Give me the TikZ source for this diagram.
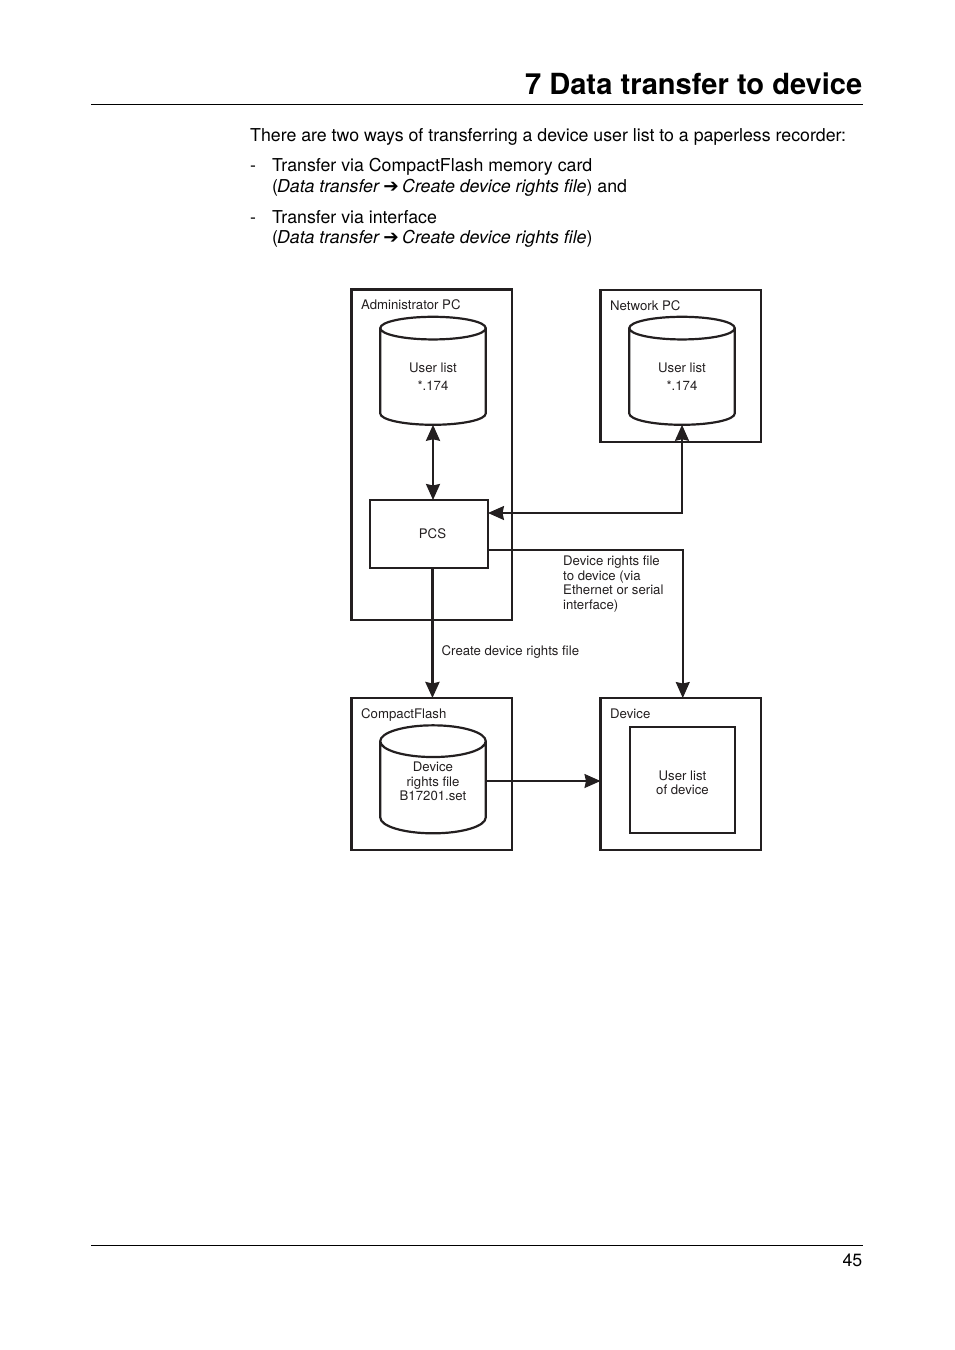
\documentclass[tikz,border=0pt]{standalone}
\usepackage{xcolor}
\usepackage{fontspec}
\setmainfont{TeX Gyre Heros}
\newfontfamily\symfont{DejaVu Sans}
\usetikzlibrary{shapes.geometric, arrows.meta, positioning, calc}

\definecolor{inkgray}{HTML}{231F20}

\tikzset{
    framebox/.style={draw=inkgray, line width=2.3pt, rectangle, outer sep=0pt},
    innerbox/.style={draw=inkgray, line width=2.2pt, rectangle, outer sep=0pt, align=center, text=inkgray, font=\diagfont},
    dbcyl/.style={draw=inkgray, line width=2.2pt, cylinder, shape border rotate=90, aspect=0.476,
        minimum width=105.5pt, minimum height=108pt, outer sep=0pt, inner sep=0pt, align=center, text=inkgray, font=\diagfont},
    tag/.style={anchor=base west, inner sep=0pt, text=inkgray, font=\diagfont},
    note/.style={anchor=north west, inner sep=0pt, align=left, text=inkgray, font=\diagfont},
    bodyline/.style={anchor=north west, inner sep=0pt, align=left, font=\bodyfont},
    flow/.style={draw=inkgray, line width=1.7pt, -{Stealth[length=16pt, width=14pt, inset=1.5pt]}},
    twoway/.style={draw=inkgray, line width=1.7pt, {Stealth[length=16pt, width=14pt, inset=1.5pt]}-{Stealth[length=16pt, width=14pt, inset=1.5pt]}},
    heavyflow/.style={flow, line width=2.9pt},
    pagerule/.style={draw=black, line width=1pt}
}
\newcommand{\diagfont}{\fontsize{13.2}{14.7}\selectfont}
\newcommand{\bodyfont}{\fontsize{17.75}{20.6}\selectfont}
\newcommand{\goesto}{\kern-1.5pt{\symfont\fontsize{18.5}{15}\selectfont ➔}\kern-1.5pt}

\begin{document}
\begin{tikzpicture}[x=1pt, y=-1pt]
    \useasboundingbox (0,0) rectangle (954,1350);

    % page head and foot
    \node[anchor=base east, inner sep=0pt, font=\fontsize{29.1}{29}\selectfont\bfseries] (title) at (862.5,94) {7 Data transfer to device};
    \coordinate (head_l) at (91,104);
    \coordinate (head_r) at (863,104);
    \draw[pagerule] (head_l) -- (head_r);
    \coordinate (foot_l) at (91,1245);
    \coordinate (foot_r) at (863,1245);
    \draw[pagerule] (foot_l) -- (foot_r);
    \node[anchor=base east, inner sep=0pt, font=\bodyfont] (pageno) at (862.5,1266) {45};

    % text above the diagram
    \node[bodyline] (intro) at (250,128) {There are two ways of transferring a device user list to a paperless recorder:};
    \node[bodyline] (dash_a) at (250,158) {\vphantom{Tf}-};
    \node[bodyline] (item_a) at (272,158) {Transfer via CompactFlash memory card\\(\kern-1pt\textit{Data transfer} \goesto{} \textit{Create device rights file}) and};
    \node[bodyline] (dash_b) at (250,210) {\vphantom{Tf}-};
    \node[bodyline] (item_b) at (272,210) {Transfer via interface\\(\kern-1pt\textit{Data transfer} \goesto{} \textit{Create device rights file})};

    % outer boxes
    \node[framebox, minimum width=160.5pt, minimum height=330.5pt] (admin) at (431.75,454.75) {};
    \node[framebox, minimum width=160.5pt, minimum height=152pt] (network) at (680.75,366) {};
    \node[framebox, minimum width=160.5pt, minimum height=152pt] (flash) at (431.75,774) {};
    \node[framebox, minimum width=160.5pt, minimum height=152pt] (device) at (680.75,774) {};

    \node[tag] (admin_tag) at (361,309) {Administrator PC};
    \node[tag] (network_tag) at (610,310) {Network PC};
    \node[tag] (flash_tag) at (361,718) {CompactFlash};
    \node[tag] (device_tag) at (610,718) {Device};

    % stores and inner boxes
    \node[dbcyl] (admin_db) at (433,377) {User list\\[3pt]*.174};
    \node[dbcyl] (network_db) at (682,377) {User list\\[3pt]*.174};
    \node[dbcyl] (flash_db) at (433,787.8) {Device\\rights file\\B17201.set\\[-2pt]};
    \node[innerbox, minimum width=105pt, minimum height=106pt] (device_list) at (682.5,780) {\rule{0pt}{15pt}User list\\of device};
    \node[innerbox, minimum width=118pt, minimum height=68pt] (pcs) at (429,534) {\hspace*{7pt}PCS};

    % connectors
    \coordinate (pcs_in) at ([yshift=21pt]pcs.east);
    \coordinate (pcs_out) at ([yshift=-16pt]pcs.east);
    \coordinate (device_in) at ([xshift=2pt]device.north);
    \coordinate (flash_in) at ([xshift=0.7pt]flash.north);
    \coordinate (flash_out) at ([yshift=-1pt]flash_db.east |- device_list.west);
    \draw[twoway, line width=2.2pt] (admin_db.south) -- (admin_db.south |- pcs.north);
    \draw[twoway] (pcs_in) -| (network_db.south);
    \draw[flow] (pcs_out) -| (device_in);
    \draw[heavyflow] (pcs.south -| flash_in) -- (flash_in);
    \draw[flow] (flash_out) -- (device.west |- flash_out);

    \node[note] (interface_note) at (563,555.7) {Device rights file\\to device (via\\Ethernet or serial\\interface)};
    \node[tag] (create_note) at (441.5,655) {Create device rights file};
\end{tikzpicture}
\end{document}
